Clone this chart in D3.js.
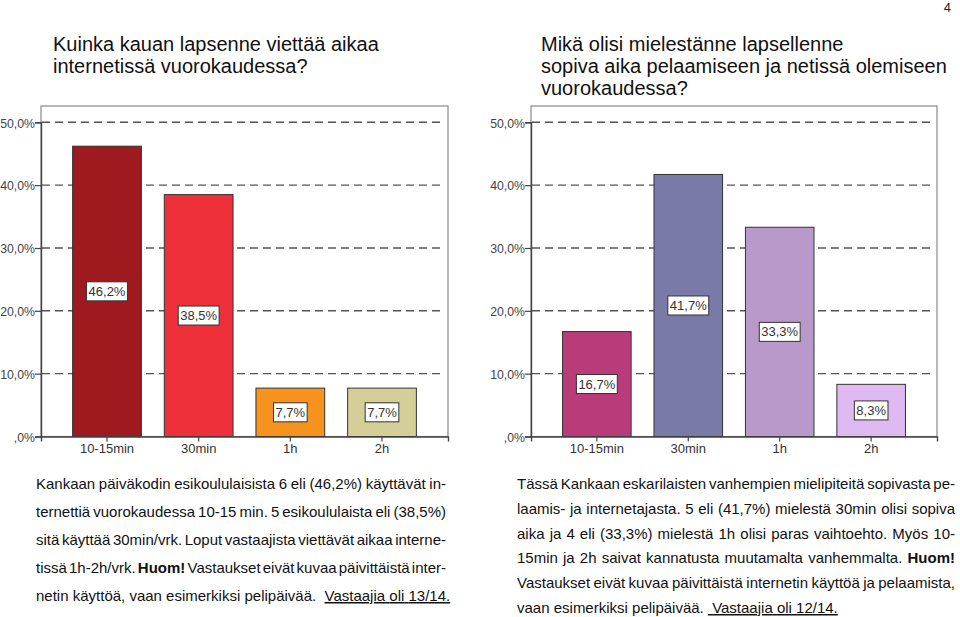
<!DOCTYPE html>
<html><head><meta charset="utf-8">
<script src="https://cdn.jsdelivr.net/npm/d3@7"></script>
<style>
html,body{margin:0;padding:0;background:#fff;}
svg{display:block;font-family:"Liberation Sans",Arial,sans-serif;}
</style></head>
<body><svg id="c" width="960" height="617"></svg>
<script>
// ---- data ----
const categories = ["10-15min", "30min", "1h", "2h"];
const leftValues = [46.2, 38.5, 7.7, 7.7];
const rightValues = [16.7, 41.7, 33.3, 8.3];
const leftColors = ["#9f1a1e", "#ee3139", "#f6931f", "#d4cf99"];
const rightColors = ["#ba3b79", "#7a7aa8", "#b899c9", "#dfb9f1"];
const yTicks = [0, 10, 20, 30, 40, 50];
const yTickLabels = [",0%", "10,0%", "20,0%", "30,0%", "40,0%", "50,0%"];
const leftTitle = ["Kuinka kauan lapsenne viettää aikaa", "internetissä vuorokaudessa?"];
const rightTitle = ["Mikä olisi mielestänne lapsellenne", "sopiva aika pelaamiseen ja netissä olemiseen", "vuorokaudessa?"];
const leftText = [
  [["Kankaan päiväkodin esikoululaisista 6 eli (46,2%) käyttävät in-"]],
  [["ternettiä vuorokaudessa 10-15 min. 5 esikoululaista eli (38,5%)"]],
  [["sitä käyttää 30min/vrk. Loput vastaajista viettävät aikaa interne-"]],
  [["tissä 1h-2h/vrk. "], ["Huom!", "b"], [" Vastaukset eivät kuvaa päivittäistä inter-"]],
  [["netin käyttöä, vaan esimerkiksi pelipäivää.  "], ["Vastaajia oli 13/14.", "u"]]
];
const rightText = [
  [["Tässä Kankaan eskarilaisten vanhempien mielipiteitä sopivasta pe-"]],
  [["laamis- ja internetajasta. 5 eli (41,7%) mielestä 30min olisi sopiva"]],
  [["aika ja 4 eli (33,3%) mielestä 1h olisi paras vaihtoehto. Myös 10-"]],
  [["15min ja 2h saivat kannatusta muutamalta vanhemmalta. "], ["Huom!", "b"]],
  [["Vastaukset eivät kuvaa päivittäistä internetin käyttöä ja pelaamista,"]],
  [["vaan esimerkiksi pelipäivää. "], [" Vastaajia oli 12/14.", "u"]]
];

const svg = d3.select("#c");
const fmt = v => v.toFixed(1).replace(".", ",") + "%";

function squeeze(sel, f) {
  sel.each(function () {
    const n = this, L = n.getComputedTextLength();
    d3.select(n).attr("textLength", L * f).attr("lengthAdjust", "spacingAndGlyphs");
  });
}

svg.append("text").attr("x", 951).attr("y", 12).attr("text-anchor", "end")
  .attr("font-size", 13).attr("fill", "#222").text("4");

function title(lines, x) {
  lines.forEach((l, i) => svg.append("text").attr("x", x).attr("y", 51 + i * 22)
    .attr("font-size", 20).attr("fill", "#111").text(l));
}
title(leftTitle, 53);
title(rightTitle, 541);

function chart(x0, x1, values, colors) {
  const top = 106, y0 = 436.5;
  const y = d3.scaleLinear().domain([0, 50]).range([y0, 122.3]);
  const x = d3.scaleBand().domain(categories).range([x0, x1]).paddingInner(0.25).paddingOuter(0.345);
  const g = svg.append("g");
  g.append("rect").attr("x", x0).attr("y", top).attr("width", x1 - x0).attr("height", y0 - top)
    .attr("fill", "none").attr("stroke", "#8a8a8a").attr("stroke-width", 1.2);
  g.selectAll(".grid").data(yTicks.filter(d => d > 0)).join("line")
    .attr("x1", x0 + 1).attr("x2", x1 - 3).attr("y1", d => y(d)).attr("y2", d => y(d))
    .attr("stroke", "#555").attr("stroke-width", 1.4).attr("stroke-dasharray", "8,5");
  g.selectAll(".bar").data(values).join("rect")
    .attr("x", (d, i) => x(categories[i])).attr("width", x.bandwidth())
    .attr("y", d => y(d)).attr("height", d => y0 - y(d))
    .attr("fill", (d, i) => colors[i]).attr("stroke", "#333").attr("stroke-width", 1);
  const ya = g.append("g").attr("transform", `translate(${x0},0)`)
    .call(d3.axisLeft(y).tickValues(yTicks).tickFormat((d, i) => yTickLabels[i]).tickSize(6).tickPadding(0));
  ya.select(".domain").attr("stroke", "#444").attr("stroke-width", 1.4);
  ya.selectAll(".tick line").attr("stroke", "#444").attr("stroke-width", 1.2);
  ya.selectAll(".tick text").attr("font-size", 13.5).attr("fill", "#444")
    .attr("font-family", "Liberation Sans, Arial, sans-serif").attr("dy", "0.35em");
  squeeze(ya.selectAll(".tick text"), 0.91);
  const xa = g.append("g").attr("transform", `translate(0,${y0})`)
    .call(d3.axisBottom(x).tickSize(5).tickPadding(2));
  xa.select(".domain").attr("stroke", "#444").attr("stroke-width", 1.4);
  xa.selectAll(".tick line").attr("stroke", "#444").attr("stroke-width", 1.2);
  xa.selectAll(".tick text").attr("font-size", 13).attr("fill", "#333")
    .attr("font-family", "Liberation Sans, Arial, sans-serif");
  values.forEach((v, i) => {
    const cx = x(categories[i]) + x.bandwidth() / 2, cy = y(v / 2);
    const t = g.append("text").attr("x", cx).attr("y", cy).attr("dy", "0.35em")
      .attr("text-anchor", "middle").attr("font-size", 13).attr("fill", "#333").text(fmt(v));
    const w = t.node().getComputedTextLength() + 4;
    g.insert("rect", () => t.node()).attr("x", cx - w / 2).attr("y", cy - 9.5)
      .attr("width", w).attr("height", 19).attr("fill", "#fff").attr("stroke", "#333").attr("stroke-width", 1);
  });
}
chart(41, 448, leftValues, leftColors);
chart(531, 937, rightValues, rightColors);

function paragraph(lines, x, w, y, lh) {
  lines.forEach((segs, li) => {
    const last = li === lines.length - 1;
    const words = [];
    segs.forEach(([s, st]) => {
      s.split(/(\s+)/).forEach(tok => { if (tok.length) words.push({ tok, st }); });
    });
    const t = svg.append("text").attr("y", y + li * lh).attr("font-size", 15).attr("fill", "#111");
    const spans = words.map(wd => {
      const sp = t.append("tspan").text(wd.tok).attr("xml:space", "preserve").style("white-space", "pre");
      if (wd.st === "b") sp.attr("font-weight", "bold");
      if (wd.st === "u") sp.attr("text-decoration", "underline");
      return sp;
    });
    const lens = spans.map(s => s.node().getComputedTextLength());
    const total = d3.sum(lens);
    const gaps = words.filter(wd => /^\s+$/.test(wd.tok) && wd.st !== "u").length;
    const extra = (!last && gaps) ? (w - total) / gaps : 0;
    let cx = x;
    spans.forEach((s, i) => {
      s.attr("x", cx);
      cx += lens[i];
      if (/^\s+$/.test(words[i].tok) && words[i].st !== "u") cx += extra;
    });
  });
}
paragraph(leftText, 36, 410, 489, 28);
paragraph(rightText, 517, 438, 489, 24.8);
</script></body></html>
